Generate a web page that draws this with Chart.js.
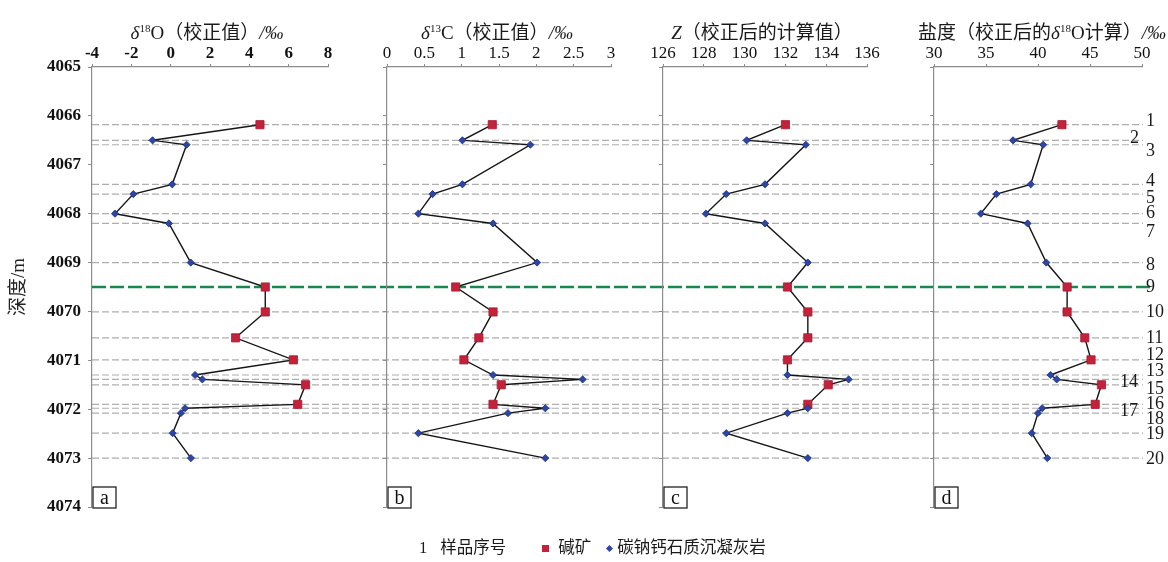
<!DOCTYPE html>
<html>
<head>
<meta charset="utf-8">
<script src="https://cdn.jsdelivr.net/npm/chart.js@4.4.1/dist/chart.umd.min.js"></script>
<style>
  html, body { margin: 0; padding: 0; background: #fff; }
  #wrap { position: relative; width: 1168px; height: 562px; overflow: hidden; background: #fff;
          font-family: "Liberation Serif", "Noto Sans CJK SC", serif; color: #1a1a1a; }
  #wrap canvas { position: absolute; left: 0; top: 0; }
  .title { position: absolute; top: 21px; font-size: 19px; line-height: 24px; white-space: nowrap;
           transform: translateX(-50%); }
  .title sup { font-size: 11px; vertical-align: 7px; line-height: 0; }
  .title i { font-style: italic; }
  #legend { position: absolute; left: 419px; top: 537px; font-size: 16.5px; line-height: 20px; white-space: nowrap; }
  #legend span { display: inline-block; vertical-align: middle; }
  .sq { width: 7px; height: 7px; background: #c4213a; margin: 0 9px 0 36px; }
  .dm { width: 5px; height: 5px; background: #2c46a8; transform: rotate(45deg); margin: 0 5px 0 16px; }
</style>
</head>
<body>
<div id="wrap">
  <canvas id="cBase" width="1168" height="562"></canvas>
  <canvas id="cA" width="1168" height="562"></canvas>
  <canvas id="cB" width="1168" height="562"></canvas>
  <canvas id="cC" width="1168" height="562"></canvas>
  <canvas id="cD" width="1168" height="562"></canvas>

  <div class="title" style="left:207px"><i>δ</i><sup>18</sup>O（校正值）<i>/‰</i></div>
  <div class="title" style="left:497px"><i>δ</i><sup>13</sup>C（校正值）<i>/‰</i></div>
  <div class="title" style="left:762px"><i>Z</i>（校正后的计算值）</div>
  <div class="title" style="left:1042px">盐度（校正后的<i>δ</i><sup>18</sup>O计算）<i>/‰</i></div>

  <div id="legend"><span>1</span><span style="margin-left:13px">样品序号</span><span class="sq"></span><span>碱矿</span><span class="dm"></span><span>碳钠钙石质沉凝灰岩</span></div>
</div>

<script>
// Sample numbers and depths (m)
const sampleNo = [1, 2, 3, 4, 5, 6, 7, 8, 9, 10, 11, 12, 13, 14, 15, 16, 17, 18, 19, 20];
const depth = [4066.18, 4066.50, 4066.59, 4067.40, 4067.60, 4068.00, 4068.20, 4069.00, 4069.50, 4070.01,
               4070.54, 4070.99, 4071.30, 4071.39, 4071.50, 4071.90, 4071.98, 4072.08, 4072.49, 4073.00];
// Lithology: 'trona' = 碱矿, 'tuff' = 碳钠钙石质沉凝灰岩
const lithology = ['trona', 'tuff', 'tuff', 'tuff', 'tuff', 'tuff', 'tuff', 'tuff', 'trona', 'trona',
                   'trona', 'trona', 'tuff', 'tuff', 'trona', 'trona', 'tuff', 'tuff', 'tuff', 'tuff'];

// Corrected δ18O (‰)
const d18O = [4.54, -0.92, 0.81, 0.08, -1.90, -2.83, -0.09, 1.02, 4.81, 4.81,
              3.30, 6.24, 1.24, 1.61, 6.86, 6.46, 0.73, 0.52, 0.10, 1.03];
// Corrected δ13C (‰)
const d13C = [1.41, 1.01, 1.92, 1.01, 0.61, 0.42, 1.42, 2.01, 0.92, 1.42,
              1.23, 1.03, 1.42, 2.62, 1.53, 1.42, 2.12, 1.62, 0.42, 2.12];
// Z value (corrected)
const zValue = [132.0, 130.1, 133.0, 131.0, 129.1, 128.1, 131.0, 133.1, 132.1, 133.1,
                133.1, 132.1, 132.1, 135.1, 134.1, 133.1, 133.1, 132.1, 129.1, 133.1];
// Salinity from corrected δ18O (‰)
const salinity = [42.3, 37.6, 40.5, 39.3, 36.0, 34.5, 39.0, 40.8, 42.8, 42.8,
                  44.5, 45.1, 41.2, 41.8, 46.1, 45.5, 40.4, 40.0, 39.4, 40.9];

// Depth of the green boundary line
const boundaryDepth = 4069.50;

// Depth axis range
const depthMin = 4065, depthMax = 4074;

const W = 1168, PLOT_TOP = 67, PLOT_BOTTOM = 507;
const SERIF = '"Liberation Serif", "Noto Sans CJK SC", serif';
const plainNumber = v => String(v);

// ---- base layer: depth axis, sample guide lines, boundary line, sample numbers ----
const guideSets = depth.filter(d => d !== boundaryDepth).map(d => ({
  data: [{ x: 0, y: d }, { x: 1, y: d }],
  borderColor: 'rgba(160,160,160,0.85)', borderWidth: 1.2, borderDash: [7, 3],
  pointRadius: 0, showLine: true
}));
guideSets.push({
  data: [{ x: 0, y: boundaryDepth }, { x: 1.009, y: boundaryDepth }],
  borderColor: '#17884e', borderWidth: 2.5, borderDash: [14, 4],
  pointRadius: 0, showLine: true, clip: false
});

// small adjustments so crowded sample numbers stay legible
const labelShift = { 1: [0, -3], 2: [-16, -2], 3: [0, 7], 4: [0, -3], 5: [0, 4], 7: [0, 9], 8: [0, 3],
                     12: [0, -5], 13: [0, -4], 14: [-26, 3], 15: [0, 4], 17: [-26, 3], 18: [0, 6], 19: [0, 1], 20: [0, 1] };

const sampleLabels = {
  id: 'sampleLabels',
  afterDatasetsDraw(chart) {
    const { ctx, chartArea, scales } = chart;
    ctx.save();
    ctx.font = '18px ' + SERIF;
    ctx.fillStyle = '#1a1a1a';
    ctx.textAlign = 'left';
    ctx.textBaseline = 'middle';
    sampleNo.forEach((n, i) => {
      const s = labelShift[n] || [0, 0];
      ctx.fillText(String(n), chartArea.right + 3 + s[0], scales.y.getPixelForValue(depth[i]) + s[1]);
    });
    ctx.restore();
  }
};

new Chart(document.getElementById('cBase'), {
  type: 'scatter',
  data: { datasets: guideSets },
  options: {
    responsive: false, animation: false, events: [],
    layout: { padding: { left: 0, right: 25, top: PLOT_TOP, bottom: 562 - PLOT_BOTTOM } },
    plugins: { legend: { display: false }, tooltip: { enabled: false } },
    scales: {
      x: { type: 'linear', display: false, min: 0, max: 1 },
      y: {
        type: 'linear', reverse: true, min: depthMin, max: depthMax,
        afterFit(s) { s.width = 92; },
        ticks: { stepSize: 1, color: '#111', padding: 7, callback: plainNumber,
                 font: { family: SERIF, size: 17, weight: 'bold' } },
        grid: { drawOnChartArea: false, tickLength: 4, color: '#8c8c8c' },
        border: { color: '#8c8c8c', width: 1.2 },
        title: { display: true, text: '深度/m', color: '#222', padding: { top: 8 },
                 font: { family: SERIF, size: 19 } }
      }
    }
  },
  plugins: [sampleLabels]
});

// ---- profile panels ----
const panelTag = {
  id: 'panelTag',
  afterDraw(chart, args, opts) {
    const { ctx, chartArea } = chart;
    const w = 23, h = 21;
    const x = chartArea.left + 1, y = chartArea.bottom - h + 1;
    ctx.save();
    ctx.fillStyle = '#fff';
    ctx.fillRect(x, y, w, h);
    ctx.strokeStyle = '#222';
    ctx.lineWidth = 1.3;
    ctx.strokeRect(x, y, w, h);
    ctx.fillStyle = '#111';
    ctx.font = '20px ' + SERIF;
    ctx.textAlign = 'center';
    ctx.textBaseline = 'middle';
    ctx.fillText(opts.text, x + w / 2, y + h / 2 + 1);
    ctx.restore();
  }
};

const isTrona = lithology.map(l => l === 'trona');

function profile(canvasId, values, cfg) {
  return new Chart(document.getElementById(canvasId), {
    type: 'scatter',
    data: {
      datasets: [{
        data: values.map((v, i) => ({ x: v, y: depth[i] })),
        showLine: true,
        borderColor: '#151515', borderWidth: 1.4,
        pointStyle: isTrona.map(t => t ? 'rect' : 'rectRot'),
        pointRadius: isTrona.map(t => t ? 5.8 : 3.6),
        pointBackgroundColor: isTrona.map(t => t ? '#c4213a' : '#2c46a8'),
        pointBorderColor: isTrona.map(t => t ? '#a81a30' : '#1c2f80'),
        pointBorderWidth: 0.8,
        clip: false
      }]
    },
    options: {
      responsive: false, animation: false, events: [],
      layout: { padding: { left: cfg.left, right: W - cfg.right, top: PLOT_TOP - 30, bottom: 562 - PLOT_BOTTOM } },
      plugins: { legend: { display: false }, tooltip: { enabled: false }, panelTag: { text: cfg.tag } },
      scales: {
        x: {
          type: 'linear', position: 'top', min: cfg.min, max: cfg.max,
          afterFit(s) { s.height = 30; },
          ticks: { stepSize: cfg.step, autoSkip: false, maxRotation: 0, padding: 2, color: '#111',
                   callback: plainNumber,
                   font: { family: SERIF, size: 17, weight: cfg.bold ? 'bold' : 'normal', lineHeight: 1 } },
          grid: { drawOnChartArea: false, tickLength: 3, color: '#8c8c8c' },
          border: { color: '#8c8c8c', width: 1.2 }
        },
        y: {
          type: 'linear', reverse: true, min: depthMin, max: depthMax, display: cfg.axisLine,
          afterFit(s) { s.width = 0; },
          ticks: { display: false, stepSize: 1 },
          grid: { drawOnChartArea: false, tickLength: 4, color: '#8c8c8c' },
          border: { color: '#8c8c8c', width: 1.2 }
        }
      }
    },
    plugins: [panelTag]
  });
}

profile('cA', d18O,     { left: 92,  right: 328,  min: -4,  max: 8,   step: 2,   tag: 'a', bold: true,  axisLine: false });
profile('cB', d13C,     { left: 387, right: 611,  min: 0,   max: 3,   step: 0.5, tag: 'b', bold: false, axisLine: true });
profile('cC', zValue,   { left: 663, right: 867,  min: 126, max: 136, step: 2,   tag: 'c', bold: false, axisLine: true });
profile('cD', salinity, { left: 934, right: 1142, min: 30,  max: 50,  step: 5,   tag: 'd', bold: false, axisLine: true });
</script>
</body>
</html>
